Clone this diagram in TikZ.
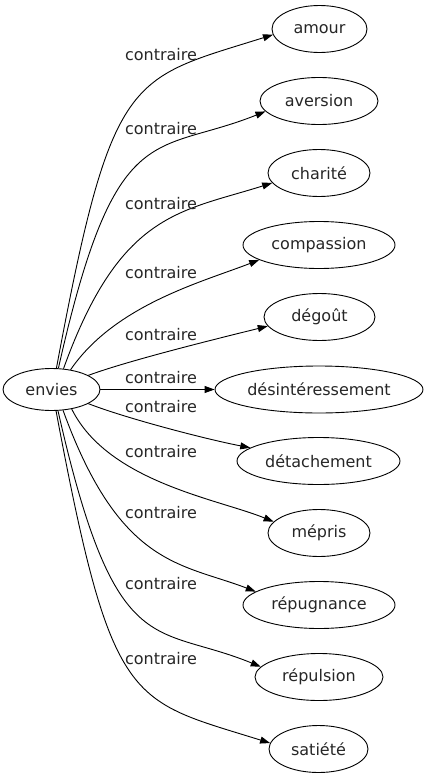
\documentclass[tikz,border=0pt]{standalone}
\usepackage{fontspec}
\setmainfont{DejaVu Sans}
\usetikzlibrary{arrows.meta,shapes.geometric}
\begin{document}
\begin{tikzpicture}[x=1pt,y=-1pt,
  nd/.style={ellipse,draw,line width=0.9pt,inner sep=0pt,minimum height=47pt,font=\fontsize{16}{19}\selectfont,text=black!85},
  lbl/.style={anchor=base,inner sep=0pt,font=\fontsize{16}{19}\selectfont,text=black!85},
  conn/.style={draw,line width=0.9pt,-{Triangle[length=10pt,width=7pt]}}]
\useasboundingbox (0,0) rectangle (429,779);
\node[nd,minimum width=97pt,minimum height=42pt] (envies) at (51.5,389.5) {envies};
\node[nd,minimum width=95pt] (amour) at (319.5,29) {amour};
\node[nd,minimum width=118pt] (aversion) at (319,101) {aversion};
\node[nd,minimum width=102pt] (charite) at (319,173) {charité};
\node[nd,minimum width=152pt] (compassion) at (319,245) {compassion};
\node[nd,minimum width=111pt] (degout) at (319.5,317) {dégoût};
\node[nd,minimum width=208pt] (desint) at (319,389.5) {désintéressement};
\node[nd,minimum width=163pt] (detach) at (318.5,461) {détachement};
\node[nd,minimum width=102pt] (mepris) at (319,533) {mépris};
\node[nd,minimum width=152pt] (repugn) at (319,605) {répugnance};
\node[nd,minimum width=128pt] (repuls) at (319,677) {répulsion};
\node[nd,minimum width=99pt] (satiete) at (318.5,749) {satiété};

\draw[conn] (envies.77.6) .. controls (112,70) and (129,80) .. (amour.187.4);
\draw[conn] (envies.72.4) .. controls (115.5,114) and (154,156) .. (aversion.191.7);
\draw[conn] (envies.60.7) .. controls (120,212) and (180,212) .. (charite.192);
\draw[conn] (envies.46.5) .. controls (115,305) and (202,282) .. (compassion.194);
\draw[conn] (envies.21.9) .. controls (130,360) and (220,338) .. (degout.190.8);
\draw[conn] (envies.east) -- (desint.west);
\draw[conn] (envies.339.4) .. controls (125,418) and (205,439) .. (detach.169.3);
\draw[conn] (envies.316.4) .. controls (108,482) and (218,499) .. (mepris.166.6);
\draw[conn] (envies.299.3) .. controls (120,567) and (181,563) .. (repugn.168.5);
\draw[conn] (envies.287.6) .. controls (115.5,665) and (154,623) .. (repuls.170.2);
\draw[conn] (envies.282.4) .. controls (112,709) and (129,699) .. (satiete.173);

\node[lbl] (l1) at (161,60) {contraire};
\node[lbl] (l2) at (161,134) {contraire};
\node[lbl] (l3) at (161,209) {contraire};
\node[lbl] (l4) at (161,278) {contraire};
\node[lbl] (l5) at (161,340) {contraire};
\node[lbl] (l6) at (161,383) {contraire};
\node[lbl] (l7) at (161,412) {contraire};
\node[lbl] (l8) at (161,457) {contraire};
\node[lbl] (l9) at (161,518) {contraire};
\node[lbl] (l10) at (161,589) {contraire};
\node[lbl] (l11) at (161,664) {contraire};
\end{tikzpicture}
\end{document}
